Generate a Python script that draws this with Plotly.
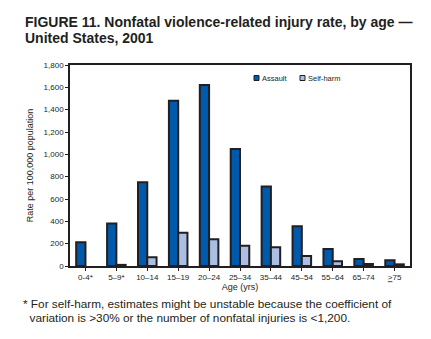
import plotly.graph_objects as go

# Nonfatal violence-related injury rates per 100,000 population, US 2001
age_groups = ["0-4*", "5\u20139*", "10\u201314", "15\u201319", "20\u201324", "25\u201334",
              "35\u201344", "45\u201354", "55\u201364", "65\u201374",
              "<span style='text-decoration:underline'>></span>75"]
assault = [212, 380, 750, 1480, 1620, 1048, 713, 355, 152, 63, 51]
self_harm = [None, 10, 78, 298, 239, 182, 167, 90, 42, 18, 15]
y_ticks = [0, 200, 400, 600, 800, 1000, 1200, 1400, 1600, 1800]
series_names = ["Assault", "Self-harm"]
series_colors = ["#005aab", "#aabfe3"]

FONT = "Liberation Sans, Arial, Helvetica, sans-serif"
INK = "#231f20"
OUTLINE = dict(color=INK, width=2)

fig = go.Figure()
for name, vals, col in zip(series_names, [assault, self_harm], series_colors):
    fig.add_trace(go.Bar(name=name, x=age_groups, y=vals, showlegend=False,
                         marker=dict(color=col, line=OUTLINE)))

# plot area in pixels: x 70..410, y 65..266
L, R, T, B = 70, 410, 65, 266
def px(x):
    return (x - L) / (R - L)
def py(y):
    return (B - y) / (B - T)

shapes = []
annotations = []

# compact legend: small outlined squares with labels
legend_x = [254, 300]
for name, col, lx in zip(series_names, series_colors, legend_x):
    shapes.append(dict(type="rect", xref="paper", yref="paper",
                       x0=px(lx), x1=px(lx + 5), y0=py(80.5), y1=py(75.5),
                       fillcolor=col, line=dict(color=INK, width=1)))
    annotations.append(dict(text=name, xref="paper", yref="paper",
                            x=px(lx + 5.5), y=py(78), xanchor="left", yanchor="middle",
                            showarrow=False, font=dict(size=7.5, family=FONT, color=INK)))

# two-line heading
title_lines = ["FIGURE 11. Nonfatal violence-related injury rate, by age \u2014",
               "United States, 2001"]
for line, ty in zip(title_lines, [22, 38]):
    annotations.append(dict(text="<b>" + line + "</b>", xref="paper", yref="paper",
                            x=px(23), y=py(ty), xanchor="left", yanchor="middle",
                            showarrow=False, font=dict(size=14, family=FONT, color=INK)))

# footnote
note_lines = ["* For self-harm, estimates might be unstable because the coefficient of",
              "  variation is >30% or the number of nonfatal injuries is <1,200."]
for line, ny in zip(note_lines, [304, 318]):
    annotations.append(dict(text=line, xref="paper", yref="paper",
                            x=px(21), y=py(ny), xanchor="left", yanchor="middle",
                            showarrow=False, font=dict(size=11.8, family=FONT, color=INK)))

fig.update_layout(
    width=431, height=339,
    margin=dict(l=L, r=431 - R, t=T, b=339 - B),
    paper_bgcolor="white", plot_bgcolor="white",
    barmode="group", bargap=0.4, bargroupgap=0,
    font=dict(family=FONT, color=INK),
    showlegend=False,
    shapes=shapes,
    annotations=annotations,
    xaxis=dict(
        showline=True, linecolor=INK, linewidth=1.5, mirror=True,
        ticks="outside", ticklen=3, tickcolor=INK,
        tickfont=dict(size=8, family=FONT),
        title=dict(text="Age (yrs)", font=dict(size=9, family=FONT), standoff=2),
    ),
    yaxis=dict(
        range=[0, 1800], tickvals=y_ticks, tickformat=",",
        showline=True, linecolor=INK, linewidth=1.5, mirror=True,
        showgrid=False, zeroline=False,
        ticks="outside", ticklen=3, tickcolor=INK,
        tickfont=dict(size=8, family=FONT),
        title=dict(text="Rate per 100,000 population", font=dict(size=9, family=FONT),
                   standoff=8),
    ),
)

fig.write_html("out.html")
